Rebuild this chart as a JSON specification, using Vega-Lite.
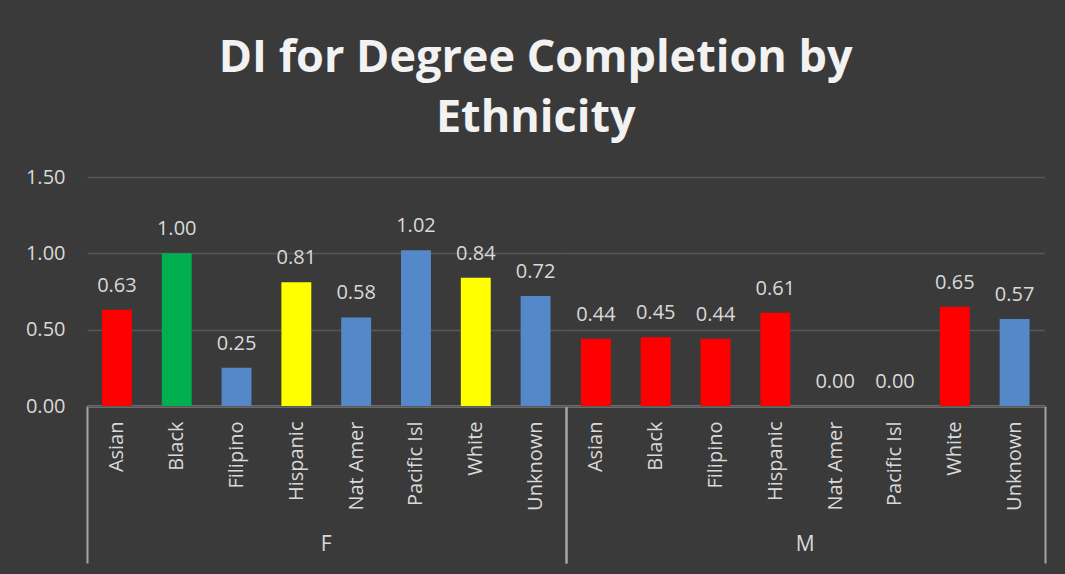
{
  "$schema": "https://vega.github.io/schema/vega-lite/v6.json",
  "background": "#3a3a3a",
  "padding": {"left": 25, "right": 19, "top": 36, "bottom": 12},
  "title": {
    "text": ["DI for Degree Completion by", "Ethnicity"],
    "font": "Open Sans",
    "fontSize": 45,
    "fontWeight": "bold",
    "color": "#f2f2f2",
    "lineHeight": 60,
    "anchor": "middle",
    "frame": "bounds",
    "offset": 26
  },
  "data": {
    "values": [
      {"gender": "F", "ethnicity": "Asian", "di": 0.63, "flag": "DI"},
      {"gender": "F", "ethnicity": "Black", "di": 1.00, "flag": "Reference"},
      {"gender": "F", "ethnicity": "Filipino", "di": 0.25, "flag": "No DI"},
      {"gender": "F", "ethnicity": "Hispanic", "di": 0.81, "flag": "Marginal"},
      {"gender": "F", "ethnicity": "Nat Amer", "di": 0.58, "flag": "No DI"},
      {"gender": "F", "ethnicity": "Pacific Isl", "di": 1.02, "flag": "No DI"},
      {"gender": "F", "ethnicity": "White", "di": 0.84, "flag": "Marginal"},
      {"gender": "F", "ethnicity": "Unknown", "di": 0.72, "flag": "No DI"},
      {"gender": "M", "ethnicity": "Asian", "di": 0.44, "flag": "DI"},
      {"gender": "M", "ethnicity": "Black", "di": 0.45, "flag": "DI"},
      {"gender": "M", "ethnicity": "Filipino", "di": 0.44, "flag": "DI"},
      {"gender": "M", "ethnicity": "Hispanic", "di": 0.61, "flag": "DI"},
      {"gender": "M", "ethnicity": "Nat Amer", "di": 0.00, "flag": "No DI"},
      {"gender": "M", "ethnicity": "Pacific Isl", "di": 0.00, "flag": "No DI"},
      {"gender": "M", "ethnicity": "White", "di": 0.65, "flag": "DI"},
      {"gender": "M", "ethnicity": "Unknown", "di": 0.57, "flag": "No DI"}
    ]
  },
  "facet": {
    "column": {
      "field": "gender",
      "type": "nominal",
      "header": {
        "title": null,
        "labelOrient": "bottom",
        "labelPadding": -30,
        "labelFont": "Open Sans",
        "labelFontSize": 21,
        "labelColor": "#d9d9d9"
      }
    }
  },
  "spacing": 0,
  "spec": {
    "width": 478.5,
    "height": 229,
    "encoding": {
      "x": {
        "field": "ethnicity",
        "type": "nominal",
        "sort": ["Asian", "Black", "Filipino", "Hispanic", "Nat Amer", "Pacific Isl", "White", "Unknown"],
        "scale": {"paddingInner": 0, "paddingOuter": 0},
        "axis": {
          "title": null,
          "labelAngle": -90,
          "labelAlign": "right",
          "labelBaseline": "middle",
          "labelPadding": -142,
          "labelFont": "Open Sans",
          "labelFontSize": 20,
          "labelColor": "#d9d9d9",
          "tickBand": "extent",
          "tickSize": 157,
          "tickWidth": 2,
          "tickColor": {"condition": {"test": "datum.index < 0 || datum.value === 'Unknown'", "value": "#a6a6a6"}, "value": "transparent"},
          "domainColor": "#a6a6a6",
          "domainWidth": 2
        }
      },
      "y": {
        "field": "di",
        "type": "quantitative",
        "scale": {"domain": [0, 1.5], "nice": false},
        "axis": {
          "title": null,
          "values": [0, 0.5, 1, 1.5],
          "format": ".2f",
          "ticks": false,
          "domain": false,
          "labelPadding": 22,
          "labelFont": "Open Sans",
          "labelFontSize": 20,
          "labelColor": "#d9d9d9",
          "gridColor": "#575757",
          "gridWidth": 1.5
        }
      }
    },
    "layer": [
      {
        "mark": {"type": "bar", "width": {"band": 0.5}},
        "encoding": {
          "color": {
            "field": "flag",
            "type": "nominal",
            "scale": {"domain": ["DI", "Reference", "No DI", "Marginal"], "range": ["#ff0000", "#00b050", "#5588c8", "#ffff00"]},
            "legend": null
          }
        }
      },
      {
        "mark": {"type": "text", "font": "Open Sans", "fontSize": 20, "color": "#d9d9d9", "baseline": "alphabetic", "dy": -18},
        "encoding": {
          "text": {"field": "di", "type": "quantitative", "format": ".2f"}
        }
      }
    ]
  },
  "config": {
    "view": {"stroke": null}
  }
}
